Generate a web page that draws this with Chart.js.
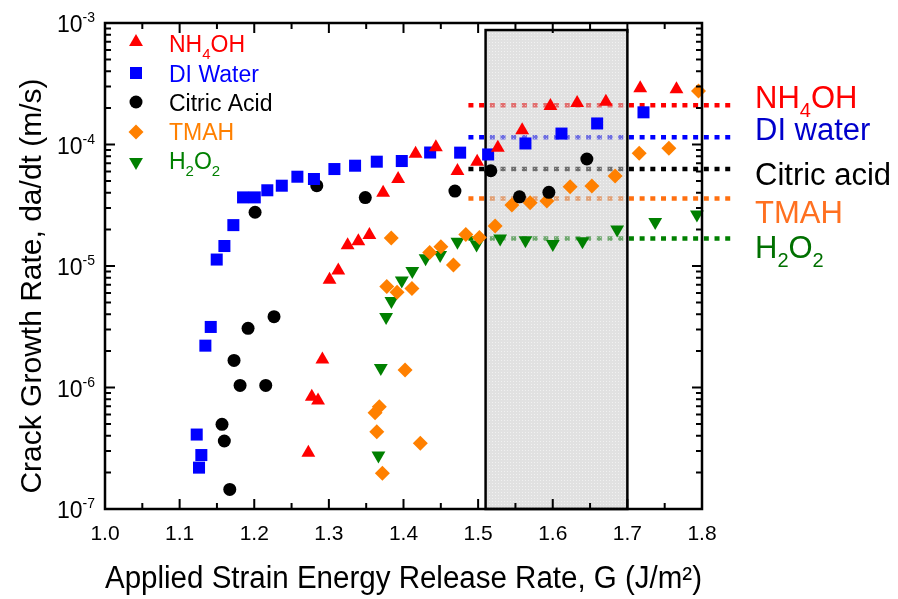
<!DOCTYPE html>
<html>
<head>
<meta charset="utf-8">
<script src="https://cdn.jsdelivr.net/npm/chart.js@4.4.1/dist/chart.umd.min.js"></script>
<style>
  html, body { margin: 0; padding: 0; background: #fff; }
</style>
</head>
<body>
<canvas id="crackChart" width="898" height="599"></canvas>
<script>
// ---- data ----
const nh4ohG    = [1.2725, 1.2771, 1.2855, 1.2913, 1.3009, 1.3126, 1.3251, 1.3395, 1.3543, 1.3727, 1.3928,
                   1.4162, 1.4434, 1.4723, 1.4987, 1.5264, 1.559, 1.5969, 1.6327, 1.6712, 1.7172, 1.7658];
const nh4ohRate = [2.9e-7, 8.4e-7, 7.8e-7, 1.7e-6, 7.7e-6, 9.2e-6, 1.48e-5, 1.6e-5, 1.8e-5, 4.0e-5, 5.2e-5,
                   8.4e-5, 9.5e-5, 6.05e-5, 7.2e-5, 9.4e-5, 1.31e-4, 2.07e-4, 2.2e-4, 2.25e-4, 2.9e-4, 2.85e-4];

const diG    = [1.1229, 1.126, 1.1291, 1.1345, 1.1417, 1.1497, 1.160, 1.172, 1.185, 1.2007, 1.2175, 1.2369, 1.2578,
                1.280, 1.3074, 1.3351, 1.3642, 1.3977, 1.4357, 1.4759, 1.5134, 1.5634, 1.6117, 1.6595, 1.7216];
const diRate = [4.1e-7, 2.19e-7, 2.78e-7, 2.21e-6, 3.15e-6, 1.13e-5, 1.46e-5, 2.17e-5, 3.67e-5, 3.67e-5, 4.2e-5, 4.58e-5, 5.43e-5,
                5.2e-5, 6.28e-5, 6.69e-5, 7.22e-5, 7.31e-5, 8.59e-5, 8.57e-5, 8.28e-5, 1.02e-4, 1.23e-4, 1.49e-4, 1.84e-4];

const citricG    = [1.1568, 1.1599, 1.1672, 1.1729, 1.181, 1.1917, 1.2011, 1.2154, 1.2265, 1.2838, 1.3488,
                    1.4689, 1.517, 1.5554, 1.5948, 1.6457];
const citricRate = [4.98e-7, 3.63e-7, 1.45e-7, 1.67e-6, 1.04e-6, 3.07e-6, 2.77e-5, 1.04e-6, 3.83e-6, 4.58e-5, 3.66e-5,
                    4.14e-5, 6.08e-5, 3.71e-5, 4.04e-5, 7.6e-5];

const tmahG    = [1.3619, 1.3642, 1.3676, 1.3717, 1.3776, 1.3836, 1.3914, 1.4021, 1.4113, 1.4225, 1.4351, 1.4501, 1.4669,
                  1.4835, 1.5017, 1.5228, 1.5452, 1.5697, 1.5921, 1.6233, 1.6524, 1.6836, 1.7158, 1.7556, 1.7953];
const tmahRate = [6.2e-7, 4.33e-7, 6.95e-7, 1.97e-7, 6.78e-6, 1.70e-5, 6.08e-6, 1.39e-6, 6.54e-6, 3.47e-7, 1.29e-5, 1.44e-5, 1.02e-5,
                  1.82e-5, 1.72e-5, 2.13e-5, 3.18e-5, 3.32e-5, 3.43e-5, 4.50e-5, 4.55e-5, 5.50e-5, 8.47e-5, 9.31e-5, 2.75e-4];

const h2o2G    = [1.3664, 1.3696, 1.3767, 1.3838, 1.3977, 1.4118, 1.4296, 1.4491, 1.4723, 1.4979, 1.5295, 1.5634,
                  1.6001, 1.6398, 1.6863, 1.7373, 1.7932];
const h2o2Rate = [2.75e-7, 1.45e-6, 3.8e-6, 5.15e-6, 7.6e-6, 9.1e-6, 1.16e-5, 1.23e-5, 1.58e-5, 1.5e-5, 1.68e-5, 1.63e-5,
                  1.52e-5, 1.6e-5, 2.0e-5, 2.3e-5, 2.65e-5];

// average levels (dotted lines on the right)
const levelRates = [2.1e-4, 1.15e-4, 6.3e-5, 3.6e-5, 1.68e-5];
const levelSpanG = [1.487, 1.838];

// shaded G window
const windowG    = [1.51, 1.70];
const windowTop  = 8.75e-4;

const xMin = 1.0, xMax = 1.8;
const yMin = 1e-7, yMax = 1e-3;
const yDecades = [-7, -6, -5, -4, -3];

// ---- styling ----
const FONT = "'Liberation Sans', Arial, sans-serif";
const series = [
  { name: [['NH', 0], ['4', 1], ['OH', 0]], g: nh4ohG,  r: nh4ohRate,  color: '#ff0000', style: 'triangle', rot: 0,   rad: 8,   text: '#ff0000' },
  { name: [['DI Water', 0]],                g: diG,     r: diRate,     color: '#0000ff', style: 'rect',     rot: 0,   rad: 8.5, text: '#0000ff' },
  { name: [['Citric Acid', 0]],             g: citricG, r: citricRate, color: '#000000', style: 'circle',   rot: 0,   rad: 6.5, text: '#000000' },
  { name: [['TMAH', 0]],                    g: tmahG,   r: tmahRate,   color: '#ff8000', style: 'rectRot',  rot: 0,   rad: 7.5, text: '#ff8000' },
  { name: [['H', 0], ['2', 1], ['O', 0], ['2', 1]], g: h2o2G, r: h2o2Rate, color: '#008000', style: 'triangle', rot: 180, rad: 8, text: '#008000' }
];
const levels = [
  { name: [['NH', 0], ['4', 1], ['OH', 0]],         line: '#ff0000', text: '#ff0000', base: 108 },
  { name: [['DI water', 0]],                        line: '#0000ff', text: '#0000cc', base: 140 },
  { name: [['Citric acid', 0]],                     line: '#000000', text: '#000000', base: 185 },
  { name: [['TMAH', 0]],                            line: '#ff7010', text: '#ff7020', base: 223 },
  { name: [['H', 0], ['2', 1], ['O', 0], ['2', 1]], line: '#008000', text: '#007000', base: 258 }
];

function drawMarker(ctx, style, rot, r, x, y, color) {
  ctx.save();
  ctx.fillStyle = color;
  ctx.translate(x, y);
  ctx.rotate(rot * Math.PI / 180);
  ctx.beginPath();
  if (style === 'circle') {
    ctx.arc(0, 0, r, 0, Math.PI * 2);
  } else if (style === 'rect') {
    const s = r * Math.SQRT1_2;
    ctx.rect(-s, -s, 2 * s, 2 * s);
  } else if (style === 'rectRot') {
    ctx.moveTo(-r, 0); ctx.lineTo(0, -r); ctx.lineTo(r, 0); ctx.lineTo(0, r); ctx.closePath();
  } else {
    for (let i = 0; i < 3; i++) {
      const a = i * 2 * Math.PI / 3;
      if (i === 0) ctx.moveTo(Math.sin(a) * r, -Math.cos(a) * r);
      else ctx.lineTo(Math.sin(a) * r, -Math.cos(a) * r);
    }
    ctx.closePath();
  }
  ctx.fill();
  ctx.restore();
}

// text with subscripts: parts = [[text, isSub], ...]
function drawRich(ctx, parts, x, base, size, subSize, subDrop, color) {
  ctx.save();
  ctx.fillStyle = color;
  ctx.textAlign = 'left';
  ctx.textBaseline = 'alphabetic';
  let cx = x;
  parts.forEach(([t, sub]) => {
    ctx.font = (sub ? subSize : size) + 'px ' + FONT;
    ctx.fillText(t, cx, base + (sub ? subDrop : 0));
    cx += ctx.measureText(t).width;
  });
  ctx.restore();
}

function makePattern(ctx) {
  const c = document.createElement('canvas');
  c.width = 3; c.height = 3;
  const p = c.getContext('2d');
  p.fillStyle = 'rgba(200,200,200,0.55)';
  p.fillRect(0, 0, 3, 3);
  p.fillStyle = 'rgba(255,255,255,0.55)';
  p.fillRect(0, 0, 1, 1);
  return ctx.createPattern(c, 'repeat');
}

// ---- plugins ----
let windowDrawn = false;
const windowPlugin = {
  id: 'gWindow',
  beforeDatasetsDraw() { windowDrawn = false; },
  beforeDatasetDraw(chart, args) {
    if (windowDrawn || args.meta.type === 'line') return;
    windowDrawn = true;
    const { ctx, scales: { x, y } } = chart;
    const x0 = x.getPixelForValue(windowG[0]), x1 = x.getPixelForValue(windowG[1]);
    const y0 = y.getPixelForValue(windowTop), y1 = y.getPixelForValue(yMin);
    ctx.save();
    ctx.fillStyle = makePattern(ctx);
    ctx.fillRect(x0, y0, x1 - x0, y1 - y0);
    ctx.strokeStyle = '#000';
    ctx.lineWidth = 2.5;
    ctx.strokeRect(x0, y0, x1 - x0, y1 - y0);
    ctx.restore();
  }
};

const framePlugin = {
  id: 'frame',
  afterDraw(chart) {
    const { ctx, chartArea: a, scales: { x, y } } = chart;
    ctx.save();
    ctx.strokeStyle = '#000';
    ctx.lineWidth = 2;
    ctx.beginPath();
    // x ticks every 0.05, inward on bottom and top
    for (let i = 0; i <= 16; i++) {
      const px = x.getPixelForValue(xMin + i * 0.05);
      const len = i % 2 === 0 ? 10 : 6;
      ctx.moveTo(px, a.bottom); ctx.lineTo(px, a.bottom - len);
      ctx.moveTo(px, a.top);    ctx.lineTo(px, a.top + len);
    }
    // y ticks: decades and 2..9
    yDecades.forEach(d => {
      for (let m = 1; m <= 9; m++) {
        const v = m * Math.pow(10, d);
        if (v > yMax * 1.0001) break;
        const py = y.getPixelForValue(v);
        const len = m === 1 ? 10 : 6;
        ctx.moveTo(a.left, py);  ctx.lineTo(a.left + len, py);
        ctx.moveTo(a.right, py); ctx.lineTo(a.right - len, py);
      }
    });
    ctx.stroke();
    ctx.lineWidth = 2.5;
    ctx.strokeRect(a.left, a.top, a.right - a.left, a.bottom - a.top);

    // y tick labels, 10 with superscript exponent
    ctx.fillStyle = '#000';
    ctx.textBaseline = 'alphabetic';
    ctx.textAlign = 'left';
    yDecades.forEach(d => {
      const py = y.getPixelForValue(Math.pow(10, d));
      ctx.font = '23px ' + FONT;
      const w10 = ctx.measureText('10').width;
      ctx.font = '14px ' + FONT;
      const exp = String(d);
      const wExp = ctx.measureText(exp).width;
      const x0 = a.left - 10 - w10 - wExp;
      ctx.font = '23px ' + FONT;
      ctx.fillText('10', x0, py + 9);
      ctx.font = '14px ' + FONT;
      ctx.fillText(exp, x0 + w10, py - 1);
    });

    // y axis title
    ctx.save();
    ctx.translate(33, 286);
    ctx.rotate(-Math.PI / 2);
    ctx.font = '30px ' + FONT;
    ctx.textAlign = 'center';
    ctx.textBaseline = 'middle';
    ctx.fillText('Crack Growth Rate, da/dt (m/s)', 0, 0);
    ctx.restore();

    // legend, top-left
    const legendRows = [42, 73, 102, 132, 162];
    const legendBase = [51.5, 81.5, 110.5, 139.5, 168.5];
    series.forEach((s, i) => {
      drawMarker(ctx, s.style, s.rot, s.rad, 136, legendRows[i], s.color);
      drawRich(ctx, s.name, 169, legendBase[i], 23, 15, 7, s.text);
    });

    // labels beside the dotted level lines
    levels.forEach(l => drawRich(ctx, l.name, 755, l.base, 31, 20, 9, l.text));
    ctx.restore();
  }
};

// ---- datasets ----
const datasets = [];
levels.forEach((l, i) => {
  datasets.push({
    type: 'line',
    data: levelSpanG.map(g => ({ x: g, y: levelRates[i] })),
    borderColor: l.line,
    borderWidth: 4.5,
    borderDash: [5, 5.7],
    borderCapStyle: 'butt',
    pointRadius: 0,
    showLine: true,
    clip: false,
    order: 2
  });
});
series.forEach(s => {
  datasets.push({
    type: 'scatter',
    data: s.g.map((g, i) => ({ x: g, y: s.r[i] })),
    backgroundColor: s.color,
    borderColor: s.color,
    borderWidth: 0,
    pointStyle: s.style,
    pointRotation: s.rot,
    pointRadius: s.rad,
    pointHoverRadius: s.rad,
    pointBorderWidth: 0,
    clip: 8,
    order: 1
  });
});

new Chart(document.getElementById('crackChart'), {
  type: 'scatter',
  data: { datasets },
  options: {
    responsive: false,
    animation: false,
    devicePixelRatio: 1,
    layout: { padding: { top: 23, right: 196, left: 0, bottom: 0 } },
    plugins: { legend: { display: false }, tooltip: { enabled: false } },
    scales: {
      x: {
        type: 'linear',
        min: xMin, max: xMax,
        afterFit: s => { s.height = 90; },
        grid: { display: false, drawTicks: false },
        border: { display: false },
        ticks: {
          stepSize: 0.1,
          padding: 13,
          color: '#000',
          font: { family: FONT, size: 21 },
          callback: v => Number(v).toFixed(1)
        },
        title: {
          display: true,
          text: 'Applied Strain Energy Release Rate, G (J/m\u00B2)',
          color: '#000',
          font: { family: FONT, size: 31 },
          padding: { top: 0, bottom: 1 }
        }
      },
      y: {
        type: 'logarithmic',
        min: yMin, max: yMax,
        afterFit: s => { s.width = 105; },
        afterBuildTicks: s => { s.ticks = yDecades.map(d => ({ value: Math.pow(10, d) })); },
        grid: { display: false, drawTicks: false },
        border: { display: false },
        ticks: { display: false },
        title: { display: false }
      }
    }
  },
  plugins: [windowPlugin, framePlugin]
});
</script>
</body>
</html>
